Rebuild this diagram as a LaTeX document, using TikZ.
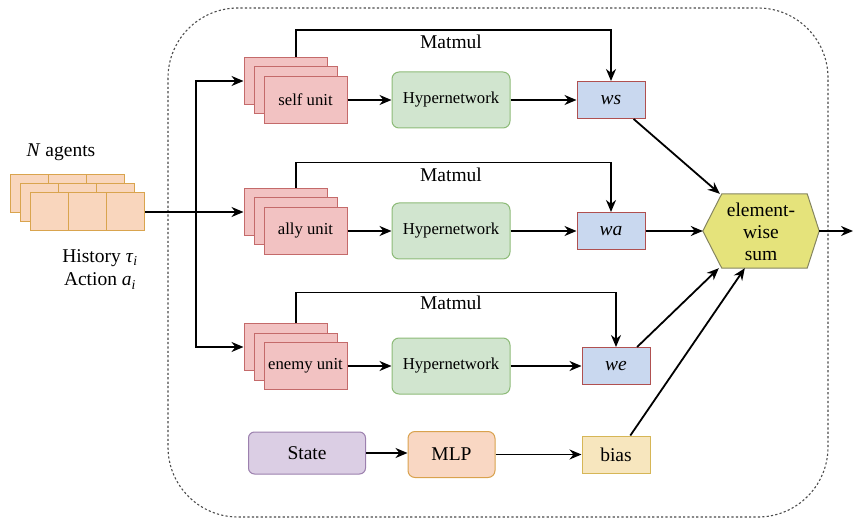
\documentclass[tikz,border=0pt]{standalone}
\usepackage{fontspec}
\setmainfont{Liberation Serif}
\usetikzlibrary{arrows.meta}
\definecolor{agentfill}{HTML}{F9D6BD}
\definecolor{agentline}{HTML}{D9A44E}
\definecolor{unitfill}{HTML}{F2C2C2}
\definecolor{unitline}{HTML}{C46A6A}
\definecolor{hyperfill}{HTML}{D1E5CF}
\definecolor{hyperline}{HTML}{8DBB78}
\definecolor{wfill}{HTML}{C9D8EF}
\definecolor{wline}{HTML}{B05050}
\definecolor{statefill}{HTML}{DBCEE4}
\definecolor{stateline}{HTML}{9C80AE}
\definecolor{mlpfill}{HTML}{F9D7C3}
\definecolor{mlpline}{HTML}{D9A24E}
\definecolor{biasfill}{HTML}{F7E6BE}
\definecolor{biasline}{HTML}{D6B656}
\definecolor{sumfill}{HTML}{E5E37B}
\definecolor{sumline}{HTML}{858560}
\begin{document}
\begin{tikzpicture}[x=1pt,y=-1pt,
    big/.style={font=\fontsize{19.5}{22}\selectfont},
    small/.style={font=\fontsize{16.7}{19}\selectfont},
    arr/.style={line width=1.8pt,-{Stealth[length=12pt,width=10pt]}},
    cell/.style={draw=agentline, fill=agentfill, line width=1pt, minimum width=38.3pt, minimum height=38pt, inner sep=0pt},
    unit/.style={draw=unitline, fill=unitfill, line width=1pt, minimum width=83pt, minimum height=47pt, inner sep=0pt, small},
    hyper/.style={draw=hyperline, fill=hyperfill, line width=1pt, rounded corners=7pt, minimum width=118pt, minimum height=56pt, small},
    wbox/.style={draw=wline, fill=wfill, line width=1pt, minimum width=68pt, minimum height=37pt, big}]
  \useasboundingbox (0,0) rectangle (854,521);
  % container
  \draw[dash pattern=on 2.2pt off 2.2pt, line width=1.1pt, draw=black!70, rounded corners=70pt] (168,8) rectangle (828,517);
  % agents
  \foreach \l/\dx in {0/10,1/20,2/30}
    \foreach \c in {0,1,2}
      \node[cell] (ag\l\c) at ({\dx+19.15+38.3*\c},{194+9*\l}) {};
  \node[big] (nag) at (61,152) {\textit{N} agents};
  \node[big] (hist) at (100,258) {History \textit{τ}\textsubscript{\textit{i}}};
  \node[big] (act) at (100,281) {Action \textit{a}\textsubscript{\textit{i}}};
  % units
  \node[unit] (sback) at (285.5,81) {};
  \node[unit] (smid) at (295.5,90.5) {};
  \node[unit] (self) at (305.5,100) {self unit};
  \node[unit] (aback) at (285.5,212) {};
  \node[unit] (amid) at (295.5,221.5) {};
  \node[unit] (ally) at (305.5,231) {ally unit};
  \node[unit] (eback) at (285.5,347) {};
  \node[unit] (emid) at (295.5,356.5) {};
  \node[unit] (enemy) at (305.5,366) {enemy unit};
  \node[hyper] (hs) at (451,100) {Hypernetwork};
  \node[hyper] (ha) at (451,231) {Hypernetwork};
  \node[hyper] (he) at (451,366) {Hypernetwork};
  \node[wbox] (ws) at (611,100) {\textit{ws}};
  \node[wbox] (wa) at (611,231) {\textit{wa}};
  \node[wbox] (we) at (616,366) {\textit{we}};
  % bottom row
  \node[big, draw=stateline, fill=statefill, line width=1pt, rounded corners=6pt, minimum width=117pt, minimum height=42pt] (state) at (307,453) {State};
  \node[big, draw=mlpline, fill=mlpfill, line width=1pt, rounded corners=7pt, minimum width=87pt, minimum height=46pt] (mlp) at (451.5,454.5) {MLP};
  \node[big, draw=biasline, fill=biasfill, line width=1pt, minimum width=68pt, minimum height=37pt] (bias) at (616,454.5) {bias};
  % sum
  \node[minimum width=116pt, minimum height=74pt, inner sep=0pt] (sum) at (761,231) {};
  \filldraw[fill=sumfill, draw=sumline, line width=1pt] (sum.west) -- ([xshift=19pt]sum.north west)
    -- ([xshift=-12pt]sum.north east) -- (sum.east) -- ([xshift=-12pt]sum.south east)
    -- ([xshift=19pt]sum.south west) -- cycle;
  \node[big, align=center] (sumtext) at (761,232) {element-\\wise\\sum};
  \coordinate (split) at (196,212);
  \coordinate (out) at (853,231);
  % connectors
  \draw[arr] (ag22.east) -- (aback.west);
  \draw[arr] (split) |- (sback.west);
  \draw[arr] (split) |- (eback.west);
  \draw[arr] (self.east) -- (hs.west);
  \draw[arr] (hs.east) -- (ws.west);
  \draw[arr] (ally.east) -- (ha.west);
  \draw[arr] (ha.east) -- (wa.west);
  \draw[arr] (enemy.east) -- (he.west);
  \draw[arr] (he.east) -- (we.west);
  \draw[arr] ([xshift=10.5pt]sback.north) -- ++(0,-27) -| (ws.north);
  \draw[arr] ([xshift=10.5pt]aback.north) -- ++(0,-25.5) -| (wa.north);
  \draw[arr] ([xshift=10.5pt]eback.north) -- ++(0,-30.5) -| (we.north);
  \node[big] (mm1) at (451,42) {Matmul};
  \node[big] (mm2) at (451,175) {Matmul};
  \node[big] (mm3) at (451,303) {Matmul};
  \draw[arr] (state.east) -- (state.east -| mlp.west);
  \draw[arr] (mlp.east) -- (bias.west);
  \draw[arr] (ws.-40) -- ([xshift=17pt]sum.north west);
  \draw[arr] (wa.east) -- (sum.west);
  \draw[arr] (we.42) -- ([xshift=16pt]sum.south west);
  \draw[arr] (bias.53) -- ([xshift=42pt]sum.south west);
  \draw[arr] (sum.east) -- (out);
\end{tikzpicture}
\end{document}
